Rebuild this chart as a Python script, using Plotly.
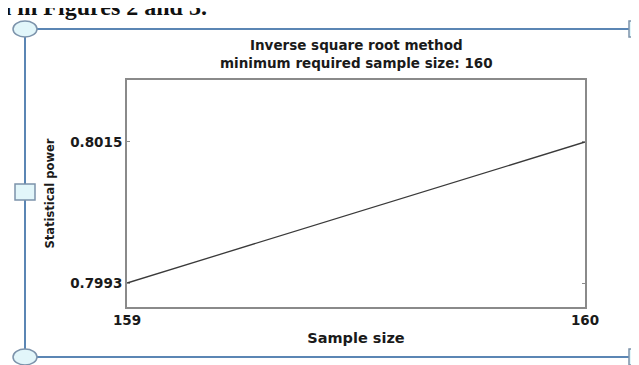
import plotly.graph_objects as go

sample_size = [159, 160]
power = [0.7993, 0.8015]
y_ticks = [0.7993, 0.8015]
x_ticks = [159, 160]
title_lines = ["Inverse square root method", "minimum required sample size: 160"]

W, H = 639, 365
OFF = 8  # page body margin offset
L, R, T, B = 127 - OFF, 585 - OFF, 80 - OFF, 307 - OFF

def px(x):
    return (x - OFF - L) / (R - L)

def py(y):
    return (B - (y - OFF)) / (B - T)

fig = go.Figure()
fig.add_trace(go.Scatter(x=sample_size, y=power, mode="lines",
                         line=dict(color="#3a3a3a", width=1.3),
                         showlegend=False, hoverinfo="skip"))

font = dict(family="DejaVu Sans", size=13.5, color="#1a1a1a", weight="bold")
axis_common = dict(showgrid=False, zeroline=False, showline=True, linecolor="#8a8a8a",
                   linewidth=2, mirror="ticks", ticks="inside", ticklen=3,
                   tickcolor="#8a8a8a", tickfont=font, automargin=False)

fig.update_layout(
    width=W, height=H,
    margin=dict(l=L, r=W - R, t=T, b=H - B, autoexpand=False),
    paper_bgcolor="white", plot_bgcolor="white",
    font=font,
    xaxis=dict(range=[159, 160], tickvals=x_ticks, ticktext=[str(v) for v in x_ticks],
               title=dict(text="Sample size", font=dict(family="DejaVu Sans", size=14.5, color="#1a1a1a", weight="bold"), standoff=6),
               **axis_common),
    yaxis=dict(range=[0.798926, 0.802467], tickvals=y_ticks,
               ticktext=[f"{v:.4f}" for v in y_ticks],
               title=dict(text="Statistical power", font=dict(family="DejaVu Sans", size=11.5, color="#1a1a1a", weight="bold"), standoff=13),
               **axis_common),
)

fig.add_annotation(text="<br>".join(title_lines), xref="paper", yref="paper",
                   x=0.5, y=py(54), xanchor="center", yanchor="middle",
                   showarrow=False, font=dict(family="DejaVu Sans", size=13.5, color="#1a1a1a", weight="bold"),
                   align="center")

# document caption text partly clipped at top
fig.add_annotation(text="n in Figures 2 and 3.", xref="paper", yref="paper",
                   x=px(-4), y=py(22), xanchor="left", yanchor="bottom",
                   showarrow=False, font=dict(family="Liberation Serif", size=24, color="#111111"))

# selection frame
frame_color = "#5b86b4"
fx0, fx1, fy0, fy1 = 25, 633, 29, 357
for (x0, y0, x1, y1) in [(fx0, fy0, fx1, fy0), (fx0, fy1, fx1, fy1), (fx0, fy0, fx0, fy1), (fx1, fy0, fx1, fy1)]:
    fig.add_shape(type="line", xref="paper", yref="paper",
                  x0=px(x0), y0=py(y0), x1=px(x1), y1=py(y1),
                  line=dict(color=frame_color, width=2))

handle_fill = "#e2f6fa"
handle_line = "#7c93ab"
for (cx, cy) in [(fx0, fy0), (fx0, fy1)]:
    fig.add_shape(type="circle", xref="paper", yref="paper",
                  x0=px(cx - 12), x1=px(cx + 12), y0=py(cy - 8), y1=py(cy + 8),
                  fillcolor=handle_fill, line=dict(color=handle_line, width=1.5))
for (cx, cy) in [(fx0, 192), (fx1 + 6, fy0), (fx1 + 6, fy1)]:
    fig.add_shape(type="rect", xref="paper", yref="paper",
                  x0=px(cx - 10), x1=px(cx + 10), y0=py(cy - 8), y1=py(cy + 8),
                  fillcolor=handle_fill, line=dict(color=handle_line, width=1.5))

fig.write_html("out.html")
